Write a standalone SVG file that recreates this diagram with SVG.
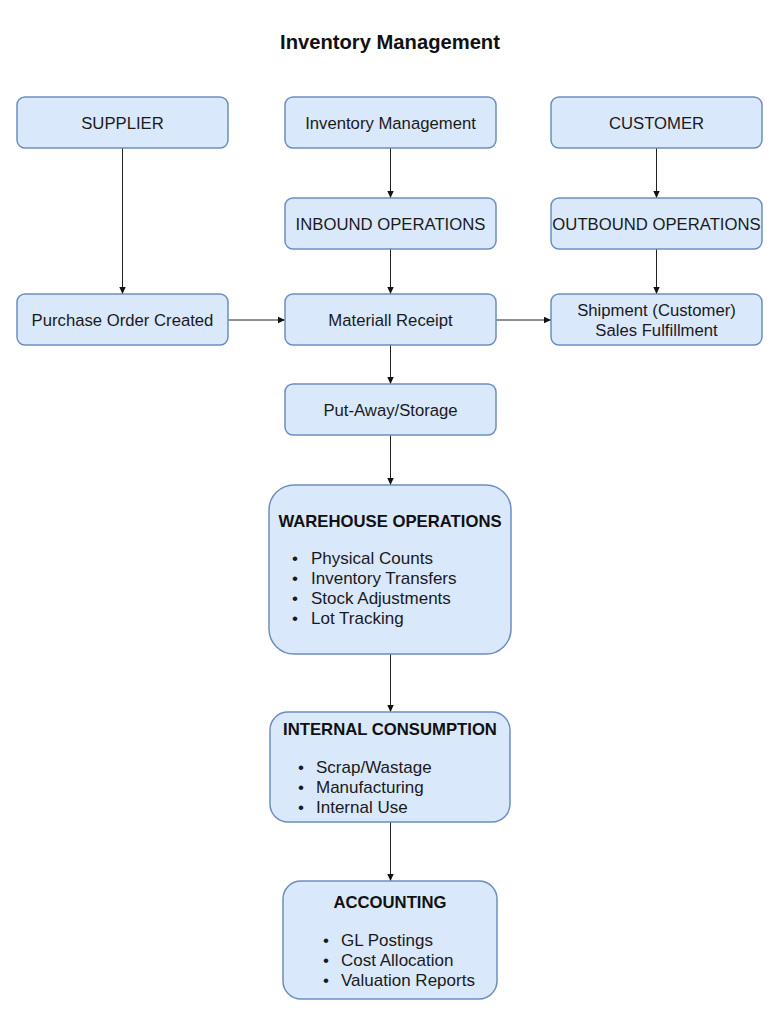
<svg xmlns="http://www.w3.org/2000/svg" width="780" height="1024" viewBox="0 0 780 1024">
<style>
.box{fill:#dae8fc;stroke:#6c8ebf;stroke-width:1.5}
.t{font-family:"Liberation Sans",Arial,sans-serif;font-size:16.7px;fill:#1a1a1a;text-anchor:middle;dominant-baseline:central}
.h{font-family:"Liberation Sans",Arial,sans-serif;font-size:16.7px;font-weight:bold;fill:#111;text-anchor:middle;dominant-baseline:central}
.b{font-family:"Liberation Sans",Arial,sans-serif;font-size:17px;fill:#1a1a1a;dominant-baseline:central}
.c{stroke:#222;stroke-width:1;fill:none;marker-end:url(#ah)}
</style>
<defs>
<marker id="ah" markerWidth="8" markerHeight="8" refX="7" refY="4" orient="auto" markerUnits="userSpaceOnUse">
<path d="M0,0.8 L7,4 L0,7.2 Z" fill="#111"/>
</marker>
</defs>
<rect width="780" height="1024" fill="#fff"/>
<text x="390" y="42" class="h" style="font-size:20.2px">Inventory Management</text>
<g id="connectors">
<line class="c" x1="122.5" y1="148" x2="122.5" y2="294"/>
<line class="c" x1="390.5" y1="148" x2="390.5" y2="198"/>
<line class="c" x1="656.5" y1="148" x2="656.5" y2="198"/>
<line class="c" x1="390.5" y1="249" x2="390.5" y2="294"/>
<line class="c" x1="656.5" y1="249" x2="656.5" y2="294"/>
<line class="c" x1="228" y1="320" x2="285" y2="320"/>
<line class="c" x1="496" y1="320" x2="551" y2="320"/>
<line class="c" x1="390.5" y1="345" x2="390.5" y2="384"/>
<line class="c" x1="390.5" y1="435" x2="390.5" y2="485"/>
<line class="c" x1="390.5" y1="654" x2="390.5" y2="712"/>
<line class="c" x1="390.5" y1="822" x2="390.5" y2="881"/>
</g>
<g id="supplier"><rect class="box" x="17" y="97" width="211" height="51" rx="8"/><text class="t" x="122.5" y="123">SUPPLIER</text></g>
<g id="inventory"><rect class="box" x="285" y="97" width="211" height="51" rx="8"/><text class="t" x="390.5" y="123">Inventory Management</text></g>
<g id="customer"><rect class="box" x="551" y="97" width="211" height="51" rx="8"/><text class="t" x="656.5" y="123">CUSTOMER</text></g>
<g id="inbound"><rect class="box" x="285" y="198" width="211" height="51" rx="8"/><text class="t" x="390.5" y="224">INBOUND OPERATIONS</text></g>
<g id="outbound"><rect class="box" x="551" y="198" width="211" height="51" rx="8"/><text class="t" x="656.5" y="224">OUTBOUND OPERATIONS</text></g>
<g id="po"><rect class="box" x="17" y="294" width="211" height="51" rx="8"/><text class="t" x="122.5" y="320">Purchase Order Created</text></g>
<g id="receipt"><rect class="box" x="285" y="294" width="211" height="51" rx="8"/><text class="t" x="390.5" y="320">Materiall Receipt</text></g>
<g id="shipment"><rect class="box" x="551" y="294" width="211" height="51" rx="8"/><text class="t" x="656.5" y="310">Shipment (Customer)</text><text class="t" x="656.5" y="330">Sales Fulfillment</text></g>
<g id="putaway"><rect class="box" x="285" y="384" width="211" height="51" rx="8"/><text class="t" x="390.5" y="410">Put-Away/Storage</text></g>
<g id="warehouse"><rect class="box" x="269" y="485" width="242" height="169" rx="25"/>
<text class="h" x="390" y="521">WAREHOUSE OPERATIONS</text>
<g class="b"><text x="292" y="558">•</text><text x="311" y="558">Physical Counts</text>
<text x="292" y="578">•</text><text x="311" y="578">Inventory Transfers</text>
<text x="292" y="598">•</text><text x="311" y="598">Stock Adjustments</text>
<text x="292" y="618">•</text><text x="311" y="618">Lot Tracking</text></g></g>
<g id="internal"><rect class="box" x="270" y="712" width="240" height="110" rx="18"/>
<text class="h" x="390" y="729">INTERNAL CONSUMPTION</text>
<g class="b"><text x="298" y="767">•</text><text x="316" y="767">Scrap/Wastage</text>
<text x="298" y="787">•</text><text x="316" y="787">Manufacturing</text>
<text x="298" y="807">•</text><text x="316" y="807">Internal Use</text></g></g>
<g id="accounting"><rect class="box" x="283" y="881" width="214" height="118" rx="18"/>
<text class="h" x="390" y="902">ACCOUNTING</text>
<g class="b"><text x="323" y="940">•</text><text x="341" y="940">GL Postings</text>
<text x="323" y="960">•</text><text x="341" y="960">Cost Allocation</text>
<text x="323" y="980">•</text><text x="341" y="980">Valuation Reports</text></g></g>
</svg>
